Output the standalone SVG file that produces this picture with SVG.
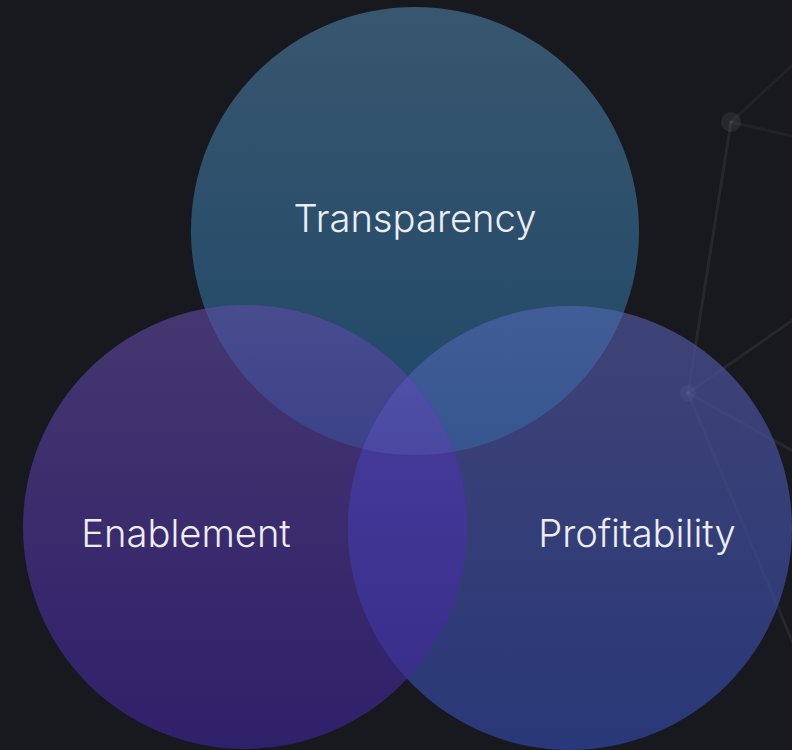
<svg xmlns="http://www.w3.org/2000/svg" width="792" height="750" viewBox="0 0 792 750">
<style>
.lbl{font-family:Inter,"Noto Sans","Liberation Sans",sans-serif;font-size:38.2px;font-weight:350;fill:#eceef4;text-anchor:middle}
.net line{stroke:#ffffff;stroke-opacity:0.045;stroke-width:3;stroke-linecap:round}
.net circle{fill:#ffffff;fill-opacity:0.07}
</style>
<defs>
<linearGradient id="gT" x1="0" y1="0" x2="0" y2="1"><stop offset="0" stop-color="#38566f"/><stop offset="1" stop-color="#1f4868"/></linearGradient>
<linearGradient id="gL" x1="0" y1="0" x2="0" y2="1"><stop offset="0" stop-color="#453770"/><stop offset="1" stop-color="#2f206a"/></linearGradient>
<linearGradient id="gR" x1="0" y1="0" x2="0" y2="1"><stop offset="0" stop-color="#3f4376"/><stop offset="1" stop-color="#293878"/></linearGradient>
<linearGradient id="gTL" gradientUnits="userSpaceOnUse" x1="0" y1="305" x2="0" y2="455"><stop offset="0" stop-color="#484c8f"/><stop offset="1" stop-color="#3c4288"/></linearGradient>
<linearGradient id="gTR" gradientUnits="userSpaceOnUse" x1="0" y1="306" x2="0" y2="455"><stop offset="0" stop-color="#415d98"/><stop offset="1" stop-color="#36558f"/></linearGradient>
<linearGradient id="gLR" gradientUnits="userSpaceOnUse" x1="0" y1="370" x2="0" y2="685"><stop offset="0" stop-color="#473c9d"/><stop offset="1" stop-color="#3a2e8b"/></linearGradient>
<linearGradient id="gTLR" gradientUnits="userSpaceOnUse" x1="0" y1="375" x2="0" y2="455"><stop offset="0" stop-color="#5050a8"/><stop offset="1" stop-color="#4a48a0"/></linearGradient>
<clipPath id="cT"><circle cx="415" cy="231" r="224"/></clipPath>
<clipPath id="cL"><circle cx="245" cy="527" r="222"/></clipPath>
<clipPath id="cR"><circle cx="570" cy="528" r="222"/></clipPath>
</defs>
<rect width="792" height="750" fill="#18181f"/>
<g id="network" class="net">
<line x1="731" y1="122" x2="800" y2="58"/>
<line x1="731" y1="122" x2="800" y2="138"/>
<line x1="731" y1="122" x2="688" y2="393"/>
<line x1="688" y1="393" x2="800" y2="315"/>
<line x1="688" y1="393" x2="800" y2="455"/>
<line x1="688" y1="393" x2="800" y2="660"/>
<circle cx="731" cy="122" r="10"/>
<circle cx="688" cy="393" r="8"/>
</g>
<g id="node-transparency">
<circle cx="415" cy="231" r="224" fill="url(#gT)"/>
<text class="lbl" x="415" y="232">Transparency</text>
</g>
<g id="node-enablement">
<circle cx="245" cy="527" r="222" fill="url(#gL)"/>
<text class="lbl" x="186" y="547">Enablement</text>
</g>
<g id="node-profitability">
<circle cx="570" cy="528" r="222" fill="url(#gR)"/>
<text class="lbl" x="637" y="547">Profitability</text>
</g>
<g id="overlaps">
<circle cx="245" cy="527" r="222" fill="url(#gTL)" clip-path="url(#cT)"/>
<circle cx="570" cy="528" r="222" fill="url(#gTR)" clip-path="url(#cT)"/>
<circle cx="570" cy="528" r="222" fill="url(#gLR)" clip-path="url(#cL)"/>
<g clip-path="url(#cL)"><circle cx="570" cy="528" r="222" fill="url(#gTLR)" clip-path="url(#cT)"/></g>
</g>
<g id="network-over" class="net" opacity="0.6">
<line x1="688" y1="393" x2="800" y2="455"/>
<line x1="688" y1="393" x2="800" y2="660"/>
<line x1="731" y1="122" x2="688" y2="393"/>
<line x1="688" y1="393" x2="800" y2="315"/>
<circle cx="688" cy="393" r="8"/>
</g>
</svg>
